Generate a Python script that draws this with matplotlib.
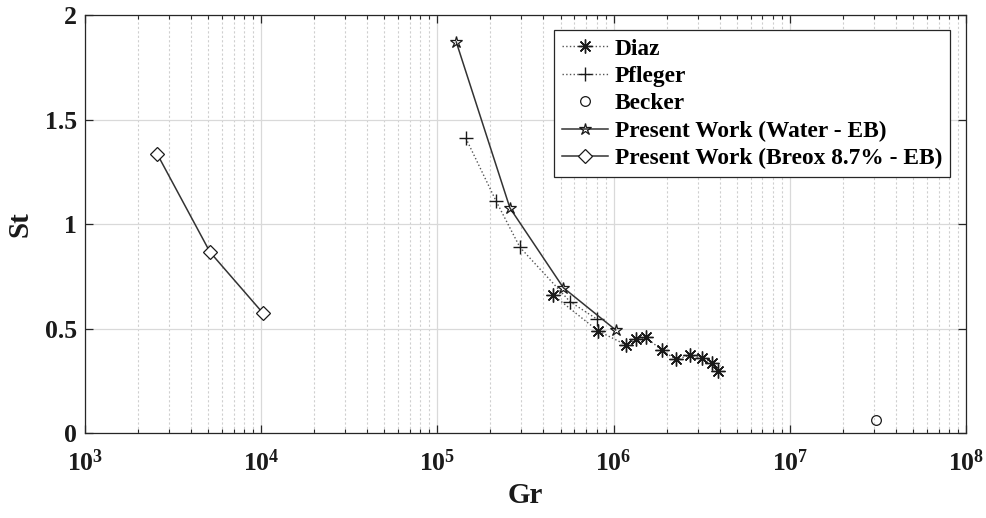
import numpy as np
import matplotlib
matplotlib.use("Agg")
import matplotlib.pyplot as plt
from matplotlib.ticker import LogLocator, FixedLocator, FuncFormatter, NullFormatter

plt.rcParams["font.family"] = ["Liberation Serif", "DejaVu Serif"]
plt.rcParams["font.weight"] = "bold"
plt.rcParams["mathtext.fontset"] = "custom"
plt.rcParams["mathtext.rm"] = "Liberation Serif:bold"
plt.rcParams["mathtext.bf"] = "Liberation Serif:bold"
plt.rcParams["mathtext.it"] = "Liberation Serif:bold"

# Diaz
diaz_gr = [4.51e5, 8.15e5, 1.17e6, 1.34e6, 1.52e6, 1.88e6, 2.25e6, 2.72e6, 3.16e6, 3.60e6, 3.93e6]
diaz_st = [0.662, 0.489, 0.423, 0.448, 0.458, 0.397, 0.353, 0.372, 0.360, 0.336, 0.298]

# Pfleger
pfleger_gr = [1.45e5, 2.15e5, 2.94e5, 5.67e5, 8.05e5]
pfleger_st = [1.411, 1.111, 0.889, 0.628, 0.545]

# Becker
becker_gr = [3.1e7]
becker_st = [0.062]

# Present work, water
water_gr = [1.28e5, 2.58e5, 5.19e5, 1.028e6]
water_st = [1.871, 1.077, 0.695, 0.493]

# Present work, Breox 8.7%
breox_gr = [2.57e3, 5.12e3, 1.023e4]
breox_st = [1.335, 0.866, 0.574]

labels = ["Diaz", "Pfleger", "Becker",
          "Present Work (Water - EB)", "Present Work (Breox 8.7% - EB)"]
y_ticks = [0, 0.5, 1, 1.5, 2]
y_tick_labels = ["0", "0.5", "1", "1.5", "2"]

fig = plt.figure(figsize=(9.87, 5.18), dpi=100)
ax = fig.add_axes([0.0861, 0.164, 0.8926, 0.807])

lc = "#1a1a1a"
ax.plot(diaz_gr, diaz_st, linestyle=":", color="#555555", lw=1.0,
        marker=(8, 2, 0), ms=10, mec=lc, mew=1.0, label=labels[0])
ax.plot(pfleger_gr, pfleger_st, linestyle=":", color="#555555", lw=1.0,
        marker="+", ms=10, mec=lc, mew=1.0, label=labels[1])
ax.plot(becker_gr, becker_st, linestyle="none",
        marker="o", ms=7, mfc="none", mec=lc, mew=0.9, label=labels[2])
ax.plot(water_gr, water_st, linestyle="-", color="#333333", lw=1.1,
        marker="*", ms=9, mfc="none", mec=lc, mew=0.9, label=labels[3])
ax.plot(breox_gr, breox_st, linestyle="-", color="#333333", lw=1.1,
        marker="D", ms=7, mfc="white", mec=lc, mew=0.9, label=labels[4])

ax.set_xscale("log")
ax.set_xlim(1e3, 1e8)
ax.set_ylim(0, 2)
ax.xaxis.set_major_locator(LogLocator(base=10, numticks=10))
ax.xaxis.set_minor_locator(LogLocator(base=10, subs=np.arange(2, 10), numticks=20))
ax.xaxis.set_minor_formatter(NullFormatter())
ax.xaxis.set_major_formatter(FuncFormatter(
    lambda v, p: r"$\mathbf{10^{%d}}$" % int(round(np.log10(v)))))
ax.yaxis.set_major_locator(FixedLocator(y_ticks))
ax.set_yticklabels(y_tick_labels)

ax.grid(True, which="major", color="#d9d9d9", lw=0.9, ls="-")
ax.grid(True, which="minor", axis="x", color="#cfcfcf", lw=0.8, ls=(0, (2, 2)))
ax.set_axisbelow(True)

ax.tick_params(which="both", direction="in", top=True, right=True,
               labelsize=18.5, colors="#262626", labelcolor="#1a1a1a")
ax.tick_params(which="major", length=6, width=0.9)
ax.tick_params(which="minor", length=3, width=0.8)
ax.tick_params(axis="x", pad=12)
ax.tick_params(axis="y", pad=6)
for s in ax.spines.values():
    s.set_color("#262626")
    s.set_linewidth(0.9)

for t in ax.get_yticklabels():
    t.set_fontweight("bold")

ax.set_xlabel("Gr", fontsize=21, fontweight="bold", labelpad=4, color="#1a1a1a")
ax.set_ylabel("St", fontsize=21, fontweight="bold", labelpad=8, color="#1a1a1a")

leg = ax.legend(loc="upper right", bbox_to_anchor=(0.982, 0.964),
                prop={"family": "Liberation Serif", "weight": "bold", "size": 16.8},
                frameon=True, fancybox=False, framealpha=1, edgecolor="#262626",
                borderpad=0.35, labelspacing=0.26, handlelength=1.95,
                handletextpad=0.3, borderaxespad=0.0)
leg.get_frame().set_linewidth(0.9)

fig.savefig("out.png", dpi=100)
